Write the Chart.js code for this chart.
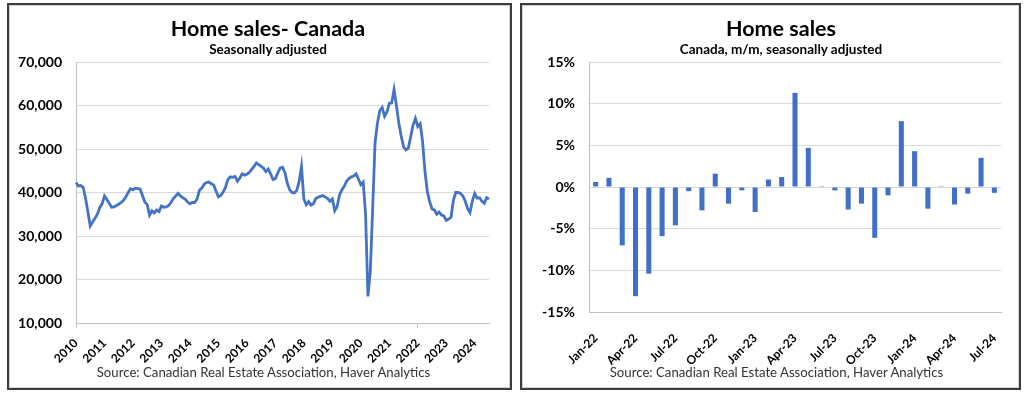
<!DOCTYPE html>
<html>
<head>
<meta charset="utf-8">
<script src="https://cdn.jsdelivr.net/npm/chart.js@4.4.1/dist/chart.umd.min.js"></script>
<style>
  body { margin: 0; background: #fff; width: 1024px; height: 397px; position: relative; overflow: hidden; font-family: Lato, sans-serif; }
  .panel { position: absolute; top: 3px; height: 387px; box-sizing: border-box; border: 2px solid #3c3c3c; box-shadow: inset 0 0 0 1px #d4d4d4; background: #fff; }
  #leftPanel { left: 7px; width: 505px; }
  #rightPanel { left: 520px; width: 501px; }
  .panel canvas { position: absolute; left: 0; top: 0; }
  .title { position: absolute; left: 17px; width: 484px; top: 10px; text-align: center; font-size: 21.5px; line-height: 26px; font-weight: bold; color: #000; }
  .subtitle { position: absolute; left: 17px; width: 484px; top: 36px; text-align: center; font-size: 13.5px; line-height: 16px; font-weight: bold; color: #000; }
  .source { position: absolute; left: 0; width: 509px; top: 359px; text-align: center; font-size: 13.2px; line-height: 16px; color: #333; }
</style>
</head>
<body>
<div class="panel" id="leftPanel">
  <canvas id="salesChart" width="501" height="383"></canvas>
  <div class="title">Home sales- Canada</div>
  <div class="subtitle">Seasonally adjusted</div>
  <div class="source">Source: Canadian Real Estate Association, Haver Analytics</div>
</div>
<div class="panel" id="rightPanel">
  <canvas id="changeChart" width="497" height="383"></canvas>
  <div class="title">Home sales</div>
  <div class="subtitle">Canada, m/m, seasonally adjusted</div>
  <div class="source">Source: Canadian Real Estate Association, Haver Analytics</div>
</div>
<script>
// monthly home sales, Jan 2010 - Jul 2024 (seasonally adjusted)
const years = ['2010', '2011', '2012', '2013', '2014', '2015', '2016', '2017', '2018', '2019', '2020', '2021', '2022', '2023', '2024'];
const homeSales = [
  42300, 41500, 41600, 41200, 38800, 35600, 32300, 33200, 34100, 35000, 36500, 37400, // 2010
  39200, 38400, 37500, 36600, 36700, 37000, 37300, 37700, 38200, 39000, 40000, 40900, // 2011
  40600, 41000, 40900, 40800, 39300, 37800, 37200, 34800, 35800, 35300, 36000, 35600, // 2012
  36900, 36600, 36700, 37000, 37700, 38600, 39200, 39800, 39200, 38800, 38500, 37800, // 2013
  37400, 37700, 37700, 38500, 40500, 41000, 41900, 42300, 42400, 42000, 41700, 40300, // 2014
  39000, 39300, 40100, 41200, 43000, 43600, 43500, 43700, 42600, 43300, 44300, 44000, // 2015
  44200, 44600, 45300, 46000, 46800, 46400, 46000, 45600, 44800, 45400, 44300, 43000, // 2016
  43200, 44500, 45600, 45800, 44600, 42200, 40600, 40000, 39900, 40500, 42500, 46000, // 2017
  38500, 37200, 37900, 37100, 37400, 38600, 38900, 39100, 39300, 39000, 38600, 38000, // 2018
  38500, 35800, 36800, 39400, 40600, 41400, 42600, 43200, 43600, 43800, 44300, 43100, // 2019
  41800, 42400, 35000, 16100, 22000, 36500, 51500, 56000, 58800, 59500, 57500, 58500, // 2020
  60500, 60600, 63700, 60000, 56000, 53000, 50500, 49800, 50200, 52800, 55500, 57000, // 2021
  55200, 55800, 51800, 45000, 40300, 37900, 36200, 36000, 35000, 35500, 34800, 34600, // 2022
  33600, 33900, 34300, 38200, 40000, 40000, 39800, 39200, 38000, 36300, 35400, 38100, // 2023
  39800, 38700, 38800, 38000, 37500, 38800, 38500                                      // 2024
];
const salesLabels = homeSales.map((_, i) => years[Math.floor(i / 12)] + '-' + String(i % 12 + 1).padStart(2, '0'));
const salesTicks = [10000, 20000, 30000, 40000, 50000, 60000, 70000];

// month-over-month change, %
const changeLabels = [
  'Jan-22', 'Feb-22', 'Mar-22', 'Apr-22', 'May-22', 'Jun-22', 'Jul-22', 'Aug-22', 'Sep-22', 'Oct-22', 'Nov-22', 'Dec-22',
  'Jan-23', 'Feb-23', 'Mar-23', 'Apr-23', 'May-23', 'Jun-23', 'Jul-23', 'Aug-23', 'Sep-23', 'Oct-23', 'Nov-23', 'Dec-23',
  'Jan-24', 'Feb-24', 'Mar-24', 'Apr-24', 'May-24', 'Jun-24', 'Jul-24'
];
const changeValues = [
  0.6, 1.1, -7.0, -13.1, -10.4, -5.9, -4.6, -0.5, -2.8, 1.6, -2.0, -0.4,
  -3.0, 0.9, 1.2, 11.3, 4.7, 0.1, -0.4, -2.7, -2.0, -6.1, -1.0, 7.9,
  4.3, -2.6, 0.1, -2.1, -0.8, 3.5, -0.7
];
const changeTicks = [-15, -10, -5, 0, 5, 10, 15];

const blue = '#4472C4';
const gridGray = '#d9d9d9';
const axisGray = '#bfbfbf';
const bold = (size) => ({ family: 'Lato', size: size, weight: 'bold' });

Chart.defaults.font.family = 'Lato';
Chart.defaults.color = '#000';

new Chart(document.getElementById('salesChart'), {
  type: 'line',
  data: {
    labels: salesLabels,
    datasets: [{
      data: homeSales,
      borderColor: blue,
      borderWidth: 2.8,
      pointRadius: 0,
      tension: 0,
      fill: false
    }]
  },
  options: {
    responsive: false,
    animation: false,
    layout: { padding: { left: 2, right: 21, top: 57, bottom: 20 } },
    plugins: {
      legend: { display: false },
      tooltip: { enabled: false }
    },
    scales: {
      x: {
        type: 'category',
        offset: false,
        afterFit: (axis) => { axis.height = 45; },
        grid: {
          drawOnChartArea: false,
          drawTicks: true,
          tickLength: 5,
          color: (ctx) => ctx.index % 12 === 0 ? axisGray : 'rgba(0,0,0,0)',
          tickColor: (ctx) => ctx.index % 12 === 0 ? axisGray : 'rgba(0,0,0,0)'
        },
        border: { display: true, color: axisGray },
        ticks: {
          autoSkip: false,
          maxRotation: 45,
          minRotation: 45,
          padding: 8,
          font: bold(12),
          callback: (v, i) => i % 12 === 0 ? salesLabels[i].slice(0, 4) : null
        }
      },
      y: {
        min: salesTicks[0],
        max: salesTicks[salesTicks.length - 1],
        afterFit: (axis) => { axis.width = 65; },
        afterBuildTicks: (axis) => { axis.ticks = salesTicks.map(v => ({ value: v })); },
        grid: { color: gridGray, drawTicks: false },
        border: { display: true, color: axisGray },
        ticks: {
          padding: 14,
          font: bold(14),
          callback: (v) => v.toLocaleString('en-US')
        }
      }
    }
  }
});

new Chart(document.getElementById('changeChart'), {
  type: 'bar',
  data: {
    labels: changeLabels,
    datasets: [{
      data: changeValues,
      backgroundColor: '#4270C6',
      categoryPercentage: 1,
      barPercentage: 0.38
    }]
  },
  options: {
    responsive: false,
    animation: false,
    layout: { padding: { left: 2, right: 18, top: 57, bottom: 20 } },
    plugins: {
      legend: { display: false },
      tooltip: { enabled: false }
    },
    scales: {
      x: {
        afterFit: (axis) => { axis.height = 56; },
        grid: { display: false },
        border: { display: true, color: axisGray },
        ticks: {
          autoSkip: false,
          maxRotation: 45,
          minRotation: 45,
          padding: 11,
          font: bold(12),
          callback: (v, i) => i % 3 === 0 ? changeLabels[i] : null
        }
      },
      y: {
        min: changeTicks[0],
        max: changeTicks[changeTicks.length - 1],
        afterFit: (axis) => { axis.width = 65; },
        afterBuildTicks: (axis) => { axis.ticks = changeTicks.map(v => ({ value: v })); },
        grid: { color: gridGray, drawTicks: false },
        border: { display: true, color: axisGray },
        ticks: {
          padding: 14,
          font: bold(14),
          callback: (v) => v + '%'
        }
      }
    }
  }
});
</script>
</body>
</html>
